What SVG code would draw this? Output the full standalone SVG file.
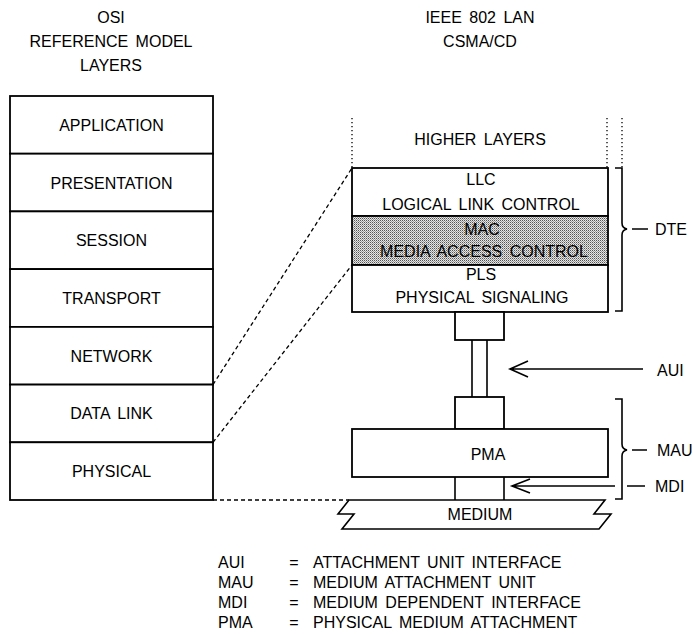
<svg xmlns="http://www.w3.org/2000/svg" width="693" height="634" viewBox="0 0 693 634">
<style>
text{font-family:"Liberation Sans",Arial,sans-serif;font-size:16px;fill:#000;text-anchor:middle}
.l{text-anchor:start}
.box{fill:#fff;stroke:#000;stroke-width:1.8}
.ln{fill:none;stroke:#000;stroke-width:1.6}
.dash{fill:none;stroke:#000;stroke-width:1.3;stroke-dasharray:4,3}
.dot{fill:none;stroke:#000;stroke-width:1.3;stroke-dasharray:1.3,2.7}
</style>
<defs>
<pattern id="stip" width="2" height="2" patternUnits="userSpaceOnUse">
<rect width="2" height="2" fill="#e6e6e6"/>
<rect width="1" height="1" fill="#555"/>
<rect x="1" y="1" width="1" height="1" fill="#9a9a9a"/>
</pattern>
</defs>
<rect width="693" height="634" fill="#fff"/>

<g id="titles">
<text x="111" y="23">OSI</text>
<text x="111" y="47" word-spacing="3">REFERENCE MODEL</text>
<text x="111" y="71">LAYERS</text>
<text x="480" y="23" word-spacing="3">IEEE 802 LAN</text>
<text x="480" y="47">CSMA/CD</text>
</g>

<g id="osi-application"><rect class="box" x="10" y="96" width="203" height="57.7"/><text x="111.5" y="131">APPLICATION</text></g>
<g id="osi-presentation"><rect class="box" x="10" y="153.7" width="203" height="57.7"/><text x="111.5" y="188.5">PRESENTATION</text></g>
<g id="osi-session"><rect class="box" x="10" y="211.4" width="203" height="57.7"/><text x="111.5" y="246">SESSION</text></g>
<g id="osi-transport"><rect class="box" x="10" y="269.1" width="203" height="57.8"/><text x="111.5" y="304">TRANSPORT</text></g>
<g id="osi-network"><rect class="box" x="10" y="326.9" width="203" height="57.7"/><text x="111.5" y="361.5">NETWORK</text></g>
<g id="osi-datalink"><rect class="box" x="10" y="384.6" width="203" height="57.7"/><text x="111.5" y="419" word-spacing="3">DATA LINK</text></g>
<g id="osi-physical"><rect class="box" x="10" y="442.3" width="203" height="57.7"/><text x="111.5" y="477">PHYSICAL</text></g>

<g id="higher-layers">
<path class="dot" d="M352,118V168M607,118V168M622,118V168"/>
<text x="480" y="144.5" word-spacing="3">HIGHER LAYERS</text>
</g>
<g id="llc"><rect class="box" x="352" y="168" width="256" height="48"/><text x="481" y="185">LLC</text><text x="481" y="210" word-spacing="3">LOGICAL LINK CONTROL</text></g>
<g id="mac"><rect x="352" y="216" width="256" height="49" fill="url(#stip)" stroke="#000" stroke-width="1.8"/><text x="482" y="235">MAC</text><text x="484" y="257" word-spacing="3">MEDIA ACCESS CONTROL</text></g>
<g id="pls"><rect class="box" x="352" y="265" width="256" height="47"/><text x="481" y="280">PLS</text><text x="482" y="303" word-spacing="3">PHYSICAL SIGNALING</text></g>
<g id="dte-connector"><rect class="box" x="455" y="312" width="49" height="28"/></g>
<g id="aui-cable"><path class="ln" d="M472,340V397M487,340V397"/></g>
<g id="mau-connector"><rect class="box" x="455" y="397" width="49" height="32"/></g>
<g id="pma"><rect class="box" x="352" y="429" width="256" height="48"/><text x="488" y="460">PMA</text></g>
<g id="mdi"><path class="ln" d="M455,477V500M504,477V500"/></g>
<g id="medium">
<path class="ln" d="M349,500H605L594,514H611L599,529H342L354,514H338Z" fill="#fff"/>
<text x="480" y="520">MEDIUM</text>
</g>

<g id="brackets">
<path class="ln" d="M615,168H622V223Q622,228 627,229Q622,230 622,235V311H615"/>
<path class="ln" d="M615,399H622V444Q622,449 627,450Q622,451 622,456V499H615"/>
<path class="ln" d="M632,229H648M632,450H647M627,486H645"/>
<text class="l" x="655" y="235">DTE</text>
<text class="l" x="657" y="456">MAU</text>
<text class="l" x="655" y="492">MDI</text>
</g>

<g id="connectors">
<path class="dash" d="M213,384.6L352,168"/>
<path class="dash" d="M213,442.3L352,265"/>
<path class="dash" d="M213,500H349"/>
<path class="ln" d="M643,369H510M528,361L510,369L528,377"/>
<path class="ln" d="M615,486H512M530,479L512,486L530,493"/>
<text class="l" x="657" y="376">AUI</text>
</g>

<g id="legend">
<text class="l" x="218" y="568">AUI</text><text x="294" y="568">=</text><text class="l" x="313" y="568" word-spacing="3">ATTACHMENT UNIT INTERFACE</text>
<text class="l" x="218" y="588">MAU</text><text x="294" y="588">=</text><text class="l" x="313" y="588" word-spacing="3">MEDIUM ATTACHMENT UNIT</text>
<text class="l" x="218" y="608">MDI</text><text x="294" y="608">=</text><text class="l" x="313" y="608" word-spacing="3">MEDIUM DEPENDENT INTERFACE</text>
<text class="l" x="218" y="628">PMA</text><text x="294" y="628">=</text><text class="l" x="313" y="628" word-spacing="3">PHYSICAL MEDIUM ATTACHMENT</text>
</g>
</svg>
